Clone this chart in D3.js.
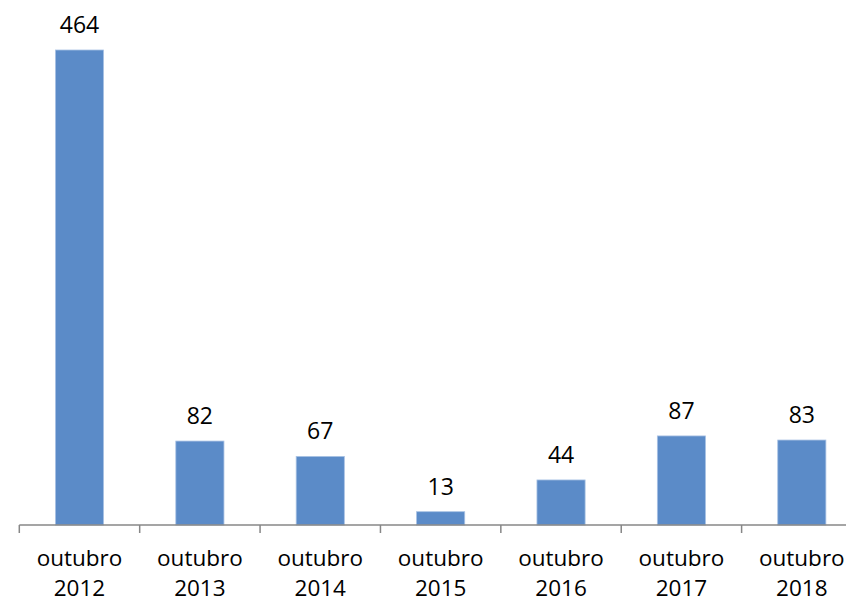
<!DOCTYPE html>
<html><head><meta charset="utf-8">
<script src="https://cdn.jsdelivr.net/npm/d3@7"></script>
<style>body{margin:0;background:#fff;} text{font-family:"Open Sans",sans-serif;fill:#000;}</style>
</head><body>
<svg id="chart" width="846" height="603"></svg>
<script>
const categories = ["outubro 2012","outubro 2013","outubro 2014","outubro 2015","outubro 2016","outubro 2017","outubro 2018"];
const values = [464, 82, 67, 13, 44, 87, 83];

const svg = d3.select("#chart");
const baseY = 525;
const x = d3.scaleBand().domain(categories).range([19.3, 862]).paddingInner(0.6).paddingOuter(0.3);
const y = d3.scaleLinear().domain([0, 464]).range([baseY, 50]);

svg.selectAll("rect.bar").data(values).join("rect")
  .attr("class","bar")
  .attr("x",(d,i)=>x(categories[i]))
  .attr("width",x.bandwidth())
  .attr("y",d=>y(d))
  .attr("height",d=>y(0)-y(d))
  .attr("fill","#5B8BC8")
  .attr("stroke","#A9C2E4").attr("stroke-width",0.8);

svg.selectAll("text.val").data(values).join("text")
  .attr("class","val")
  .attr("x",(d,i)=>x(categories[i])+x.bandwidth()/2)
  .attr("y",d=>y(d)-17)
  .attr("text-anchor","middle")
  .attr("font-size","23px")
  .text(d=>d);

// axis
const step = x.step();
const g = svg.append("g");
g.append("line").attr("x1",x.range()[0]).attr("x2",846).attr("y1",baseY).attr("y2",baseY)
  .attr("stroke","#878787").attr("stroke-width",1.5);
categories.forEach((c,i)=>{
  const tx = x.range()[0] + i*step;
  g.append("line").attr("x1",tx).attr("x2",tx).attr("y1",baseY).attr("y2",baseY+8)
    .attr("stroke","#878787").attr("stroke-width",1.5);
});

const lab = svg.selectAll("text.cat").data(categories).join("text")
  .attr("class","cat")
  .attr("text-anchor","middle")
  .attr("font-size","22.5px")
  .attr("x",c=>x(c)+x.bandwidth()/2);
lab.each(function(c){
  const parts = c.split(" ");
  const t = d3.select(this);
  t.append("tspan").attr("x",x(c)+x.bandwidth()/2).attr("y",566).text(parts[0]);
  t.append("tspan").attr("x",x(c)+x.bandwidth()/2).attr("y",596).text(parts[1]);
});
</script>
</body></html>
